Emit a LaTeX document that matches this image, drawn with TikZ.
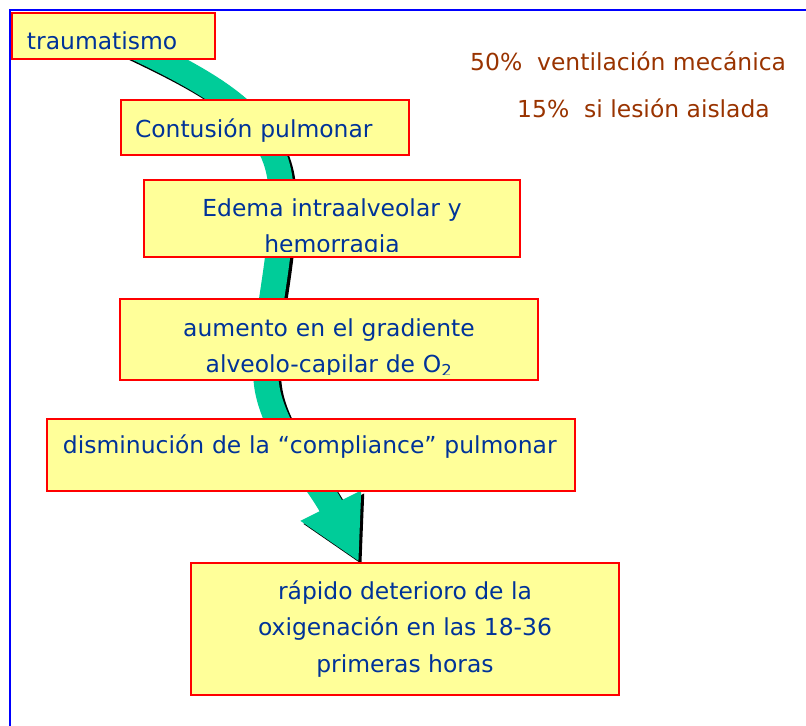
\documentclass[tikz,border=0pt]{standalone}
\usepackage{fontspec}
\setmainfont{DejaVu Sans}
\usetikzlibrary{calc,arrows.meta,backgrounds}
\definecolor{boxyellow}{HTML}{FFFF99}
\definecolor{boxred}{HTML}{FF0000}
\definecolor{txtblue}{HTML}{003399}
\definecolor{notebrown}{HTML}{993300}
\definecolor{flowgreen}{HTML}{00CC99}
\newcommand{\diagfont}{\fontsize{20}{31}\selectfont}

\begin{document}
\begin{tikzpicture}[x=0.3mm,y=-0.3mm,
    box/.style={draw=boxred,fill=boxyellow,line width=0.6mm,inner sep=0pt,text=txtblue,font=\diagfont},
    boxtext/.style={text=txtblue,font=\diagfont,inner sep=0pt,align=center},
    note/.style={text=notebrown,font=\diagfont,inner sep=0pt,anchor=base west},
    flow/.style={line width=7.5mm,-{Triangle[length=18.9mm,width=18.9mm]}}]
    \useasboundingbox (0,0) rectangle (806,725);
    \clip (0,0) rectangle (806,725);
    % Frame
    \draw[blue,line width=0.6mm] (10,10) rectangle (830,760);
    % Boxes
    \node[box,minimum width=60.9mm,minimum height=13.8mm,inner xsep=4.5mm,text width=51.9mm,align=left,text height=8.4mm,text depth=0mm] (trauma) at (113.5,36) {traumatismo};
    \node[box,minimum width=86.4mm,minimum height=16.5mm,inner xsep=4.2mm,text width=78mm,align=left,text height=5.7mm,text depth=0mm] (contusion) at (265,127.5) {Contusión pulmonar};
    \node[box,minimum width=112.8mm,minimum height=23.1mm] (edema) at (332,218.5) {};
    \node[box,minimum width=125.4mm,minimum height=24.3mm] (gradiente) at (329,339.5) {};
    \node[box,minimum width=158.4mm,minimum height=21.6mm,inner xsep=4.8mm,text width=148.8mm,align=left,text height=5mm,text depth=6.2mm] (compliance) at (311,455) {disminución de la “compliance” pulmonar};
    \node[box,minimum width=128.4mm,minimum height=39.6mm,align=center] (rapido) at (405,629) {rápido deterioro de la\\oxigenación en las 18-36\\primeras horas};
    % Texts cut by the box edge
    \begin{scope}
        \clip (edema.north west) rectangle ($(edema.south east)+(0,-7)$);
        \node[boxtext,anchor=base,text width=112.8mm] (edematxt) at (332,216) {Edema intraalveolar y\\hemorragia};
    \end{scope}
    \begin{scope}
        \clip (gradiente.north west) rectangle ($(gradiente.south east)+(0,-7)$);
        \node[boxtext,anchor=base,text width=125.4mm] (gradientetxt) at (329,336) {aumento en el gradiente\\alveolo-capilar de O\textsubscript{2}};
    \end{scope}
    % Notes
    \node[note] (ventilacion) at (470,71) {50\%\ \ ventilación mecánica};
    \node[note] (aislada) at (517,117) {15\%\ \ si lesión aislada};
    % Curved arrow
    \coordinate (a0) at ($(trauma.south east)+(-90,-17)$);
    \coordinate (a1) at ($(rapido.north west)+(169,0)$);
    \begin{scope}[on background layer]
        \draw[flow,black,transform canvas={shift={(0.9mm,-0.9mm)}}] (a0) .. controls (215,85) and (278,120) .. (281,190) .. controls (284,260) and (262,320) .. (266,380) .. controls (270,430) and (318,480) .. (a1);
        \draw[flow,flowgreen] (a0) .. controls (215,85) and (278,120) .. (281,190) .. controls (284,260) and (262,320) .. (266,380) .. controls (270,430) and (318,480) .. (a1);
    \end{scope}
\end{tikzpicture}
\end{document}
